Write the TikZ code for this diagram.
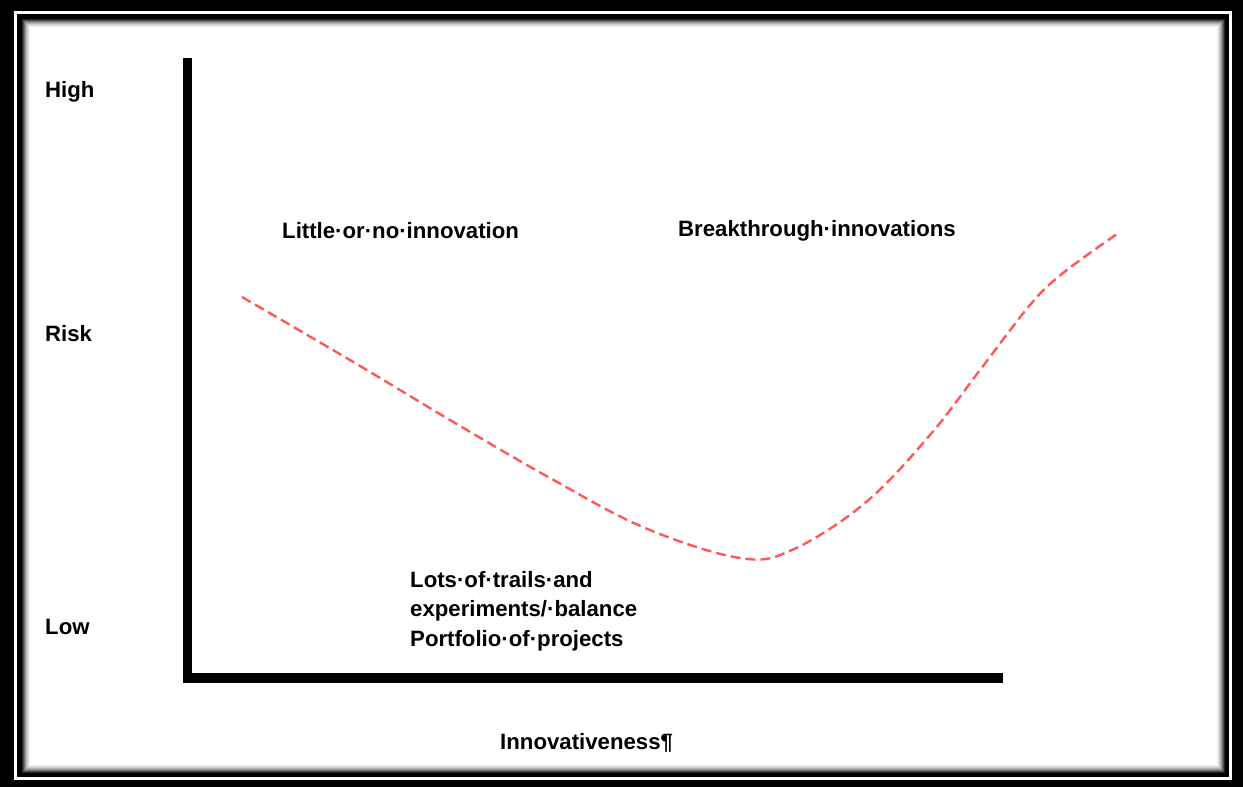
\documentclass[tikz,border=0pt]{standalone}
\usepackage{fontspec}
\setmainfont{Liberation Sans}
\usetikzlibrary{positioning}

\definecolor{curvered}{RGB}{255,88,88}

\tikzset{
  lbl/.style={anchor=west, inner sep=0pt, font=\fontsize{22.2}{29.5}\selectfont\bfseries},
  axis/.style={line width=9.5pt, miter limit=10},
  riskcurve/.style={curvered, line width=2.4pt, dash pattern=on 10pt off 5pt},
}

\begin{document}
\begin{tikzpicture}[x=1pt,y=-1pt]
  \useasboundingbox (0,0) rectangle (1243,787);

  % double frame with a soft inner shadow
  \fill[black] (0,0) rectangle (1243,787);
  \fill[white] (14,11) rectangle (1232,780);
  \fill[black] (17,14) rectangle (1229,777);
  \foreach \i/\p in {0/85,1/70,2/55,3/42,4/30,5/20,6/12,7/6,8/2,9/0} {
    \fill[black!\p!white] (22+\i,19+\i) rectangle (1225-\i,773-\i);
  }

  % axes
  \coordinate (ytop) at (187.5,58);
  \coordinate (origin) at (187.5,678);
  \coordinate (xend) at (1003,678);
  \draw[axis] (ytop) -- (origin) -- (xend);

  % risk labels on the left
  \node[lbl] (high) at (45,92) {High};
  \node[lbl] (risk) at (45,334) {Risk};
  \node[lbl] (low) at (45,627) {Low};

  % region labels
  \node[lbl] (little) at (282,231) {Little·or·no·innovation};
  \node[lbl] (breakthrough) at (678,231) {Breakthrough·innovations};
  \node[lbl, align=left] (lots) at (410,611)
    {Lots·of·trails·and\\experiments/·balance\\Portfolio·of·projects};
  \node[lbl] (innov) at (500,743) {Innovativeness¶};

  % risk against innovativeness
  \draw[riskcurve] plot[smooth, tension=0.6] coordinates {
    (242,297) (350,360) (450,420) (550,478) (645,528) (740,558)
    (792,550) (865,503) (930,435) (980,370) (1030,305) (1063,273) (1117,234)};
\end{tikzpicture}
\end{document}
